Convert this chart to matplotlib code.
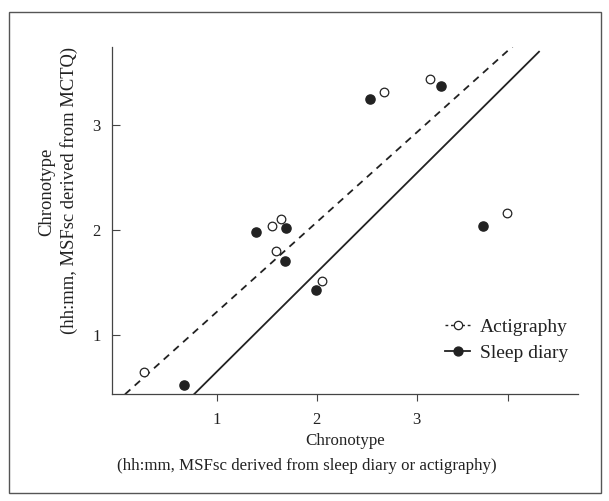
import matplotlib
matplotlib.use("Agg")
import matplotlib.pyplot as plt
from matplotlib.lines import Line2D
from matplotlib.patches import Rectangle

plt.rcParams['font.family'] = ['Liberation Serif', 'DejaVu Serif']

# Data (hours)
act_x = [0.27, 1.556, 1.646, 1.593, 2.053, 2.67, 3.13, 3.906]
act_y = [0.651, 2.041, 2.105, 1.803, 1.511, 3.31, 3.44, 2.165]
diary_x = [0.676, 1.393, 1.693, 1.683, 1.996, 2.53, 3.24, 3.66]
diary_y = [0.524, 1.978, 2.019, 1.708, 1.429, 3.245, 3.37, 2.04]

# fitted lines (endpoints)
act_fit_x = [0.083, 3.966]
act_fit_y = [0.435, 3.755]
diary_fit_x = [0.773, 4.223]
diary_fit_y = [0.435, 3.698]

xticks = [1, 2, 3, 3.916]
xticklabels = ['1', '2', '3', '']
yticks = [1, 2, 3]
yticklabels = ['1', '2', '3']

W, H = 609, 501
fig = plt.figure(figsize=(W/100, H/100), dpi=100)
ax = fig.add_axes([111.7/W, 1-394.3/H, (578-111.7)/W, (394.3-47)/H])

dark = '#222222'
ax.plot(act_fit_x, act_fit_y, color=dark, lw=1.3, dashes=(4, 3.2))
ax.plot(diary_fit_x, diary_fit_y, color=dark, lw=1.3)
ax.plot(act_x, act_y, 'o', ms=6.2, mfc='white', mec=dark, mew=0.9, ls='none')
ax.plot(diary_x, diary_y, 'o', ms=6.6, mfc=dark, mec=dark, ls='none')

ax.set_xlim(-0.05, 4.613)
ax.set_ylim(0.435, 3.743)
ax.set_xticks(xticks)
ax.set_xticklabels(xticklabels)
ax.set_yticks(yticks)
ax.set_yticklabels(yticklabels)
for s in ['top', 'right']:
    ax.spines[s].set_visible(False)
for s in ['left', 'bottom']:
    ax.spines[s].set_color('#444444')
    ax.spines[s].set_linewidth(0.9)
ax.tick_params(axis='x', direction='out', length=5, width=0.8, color='#444444',
               labelsize=12, pad=8, labelcolor='#222222')
ax.tick_params(axis='y', direction='in', length=5.5, width=0.8, color='#444444',
               labelsize=12, pad=8, labelcolor='#222222')

handles = [Line2D([0], [0], color=dark, lw=1.0, dashes=(2, 2), marker='o', ms=6,
                  mfc='white', mec=dark, mew=0.9),
           Line2D([0], [0], color=dark, lw=1.3, marker='o', ms=6.4, mfc=dark, mec=dark)]
fig.legend(handles, ['Actigraphy', 'Sleep diary'], loc='upper left',
           bbox_to_anchor=(445/W, 1-318/H), frameon=False, fontsize=14,
           handlelength=1.3, handletextpad=0.5, labelspacing=0.45,
           borderpad=0, borderaxespad=0, labelcolor='#222222')

fig.text(345/W, 1-441/H, 'Chronotype', ha='center', va='center', fontsize=12.2, color='#222222')
fig.text(307/W, 1-466/H, '(hh:mm, MSFsc derived from sleep diary or actigraphy)',
         ha='center', va='center', fontsize=12.2, color='#222222')
fig.text(47/W, 1-192/H, 'Chronotype', ha='center', va='center', rotation=90,
         fontsize=13.4, color='#222222')
fig.text(69/W, 1-190/H, '(hh:mm, MSFsc derived from MCTQ)', ha='center', va='center',
         rotation=90, fontsize=13.4, color='#222222')

fig.patches.append(Rectangle((8.5/W, 1-493/H), (601-8.5)/W, (493-12)/H,
                             transform=fig.transFigure, fill=False,
                             edgecolor='#555555', lw=1.0))

fig.savefig('out.png', dpi=100)
